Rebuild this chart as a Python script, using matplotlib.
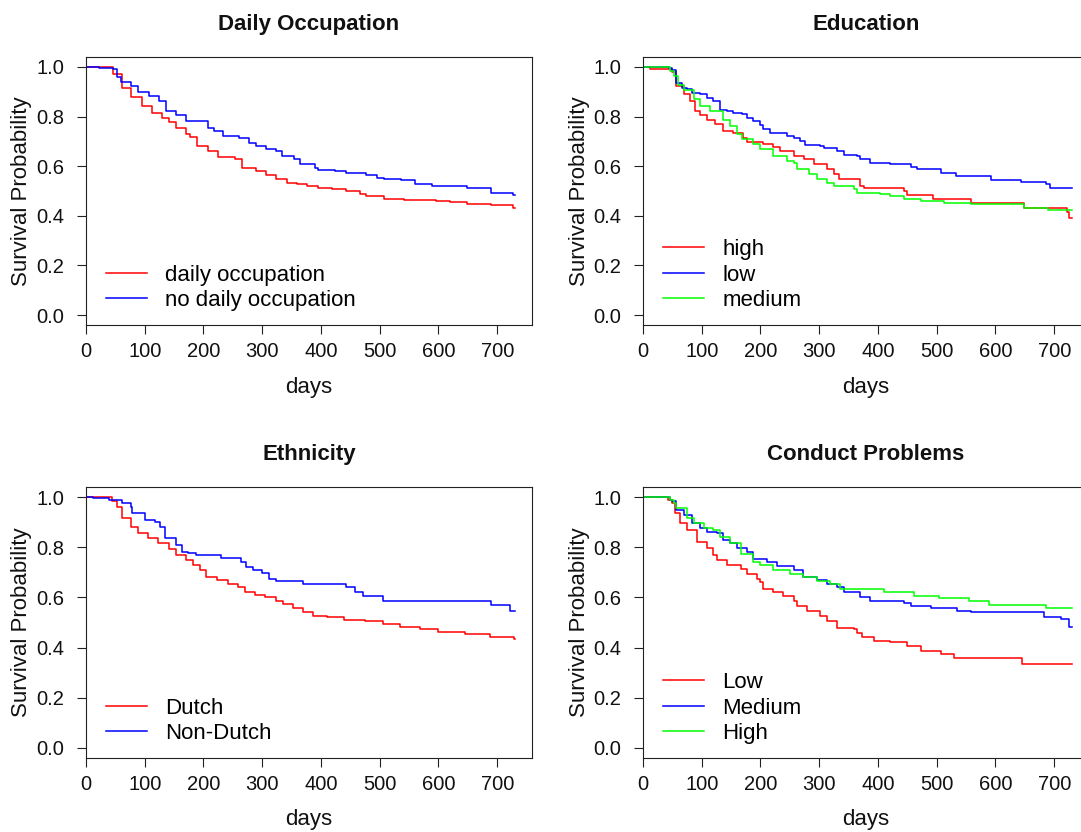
import matplotlib
matplotlib.use("Agg")
import matplotlib.pyplot as plt

plt.rcParams['font.family'] = ['Liberation Sans', 'DejaVu Sans']

# ---------------- data (step points: day, survival) ----------------
days_ticks = [0, 100, 200, 300, 400, 500, 600, 700]
surv_ticks = [0.0, 0.2, 0.4, 0.6, 0.8, 1.0]
end_day = 730

# Panel 1: Daily Occupation
occ_labels = ["daily occupation", "no daily occupation"]
occ_daily_t = [0, 46, 62, 77, 95, 112, 130, 142, 154, 171, 177, 189, 207, 224, 254, 265, 289, 307, 324, 342, 360, 377, 395, 418, 442, 466, 477, 507, 542, 595, 619, 648, 689, 727]
occ_daily_s = [1.0, 0.97, 0.915, 0.88, 0.842, 0.815, 0.795, 0.78, 0.755, 0.728, 0.718, 0.68, 0.66, 0.638, 0.627, 0.594, 0.58, 0.563, 0.547, 0.534, 0.527, 0.52, 0.513, 0.507, 0.5, 0.487, 0.48, 0.469, 0.462, 0.46, 0.457, 0.446, 0.442, 0.432]
occ_none_t = [0, 22, 46, 52, 59, 77, 89, 107, 124, 136, 154, 171, 207, 218, 233, 260, 277, 289, 307, 324, 333, 354, 365, 389, 395, 424, 442, 477, 495, 507, 536, 560, 589, 648, 689, 727]
occ_none_s = [1.0, 0.995, 0.99, 0.96, 0.94, 0.922, 0.898, 0.882, 0.862, 0.822, 0.808, 0.781, 0.755, 0.741, 0.721, 0.714, 0.694, 0.68, 0.67, 0.661, 0.641, 0.627, 0.607, 0.594, 0.584, 0.58, 0.574, 0.564, 0.554, 0.547, 0.543, 0.527, 0.52, 0.513, 0.493, 0.483]

# Panel 2: Education
edu_labels = ["high", "low", "medium"]
edu_high_t = [0, 12, 49, 57, 69, 80, 89, 97, 109, 123, 137, 154, 171, 177, 205, 222, 234, 257, 274, 291, 313, 325, 333, 370, 376, 444, 450, 493, 558, 649, 721, 726]
edu_high_s = [1.0, 0.993, 0.979, 0.922, 0.889, 0.862, 0.822, 0.808, 0.788, 0.768, 0.741, 0.735, 0.714, 0.697, 0.688, 0.678, 0.661, 0.641, 0.627, 0.607, 0.587, 0.567, 0.547, 0.52, 0.513, 0.5, 0.483, 0.466, 0.45, 0.433, 0.416, 0.393]
edu_low_t = [0, 44, 49, 57, 66, 75, 83, 97, 109, 120, 131, 143, 154, 168, 177, 188, 200, 205, 217, 245, 257, 268, 276, 302, 308, 330, 342, 365, 370, 387, 421, 456, 467, 507, 532, 592, 643, 686, 692]
edu_low_s = [1.0, 0.995, 0.987, 0.936, 0.915, 0.911, 0.895, 0.889, 0.875, 0.862, 0.828, 0.822, 0.815, 0.812, 0.795, 0.781, 0.764, 0.748, 0.735, 0.721, 0.714, 0.701, 0.684, 0.681, 0.672, 0.661, 0.647, 0.641, 0.627, 0.614, 0.607, 0.598, 0.59, 0.574, 0.56, 0.544, 0.536, 0.527, 0.513]
edu_med_t = [0, 46, 52, 60, 69, 86, 97, 114, 137, 148, 160, 168, 188, 200, 222, 245, 257, 262, 282, 296, 313, 325, 359, 365, 404, 421, 444, 473, 512, 558, 649, 689]
edu_med_s = [1.0, 0.985, 0.962, 0.929, 0.909, 0.869, 0.842, 0.822, 0.788, 0.761, 0.728, 0.708, 0.688, 0.668, 0.641, 0.621, 0.614, 0.587, 0.567, 0.547, 0.534, 0.52, 0.507, 0.493, 0.487, 0.48, 0.469, 0.46, 0.45, 0.446, 0.433, 0.424]

# Panel 3: Ethnicity
eth_labels = ["Dutch", "Non-Dutch"]
eth_dutch_t = [0, 44, 53, 62, 76, 88, 106, 123, 141, 153, 170, 182, 194, 205, 223, 241, 258, 270, 288, 305, 323, 335, 352, 370, 387, 411, 440, 475, 505, 534, 569, 599, 646, 687, 728]
eth_dutch_s = [1.0, 0.985, 0.962, 0.916, 0.882, 0.858, 0.835, 0.815, 0.791, 0.768, 0.748, 0.728, 0.708, 0.681, 0.668, 0.654, 0.641, 0.621, 0.611, 0.601, 0.587, 0.574, 0.558, 0.54, 0.527, 0.52, 0.511, 0.504, 0.493, 0.484, 0.473, 0.464, 0.453, 0.442, 0.434]
eth_non_t = [0, 12, 40, 62, 76, 79, 100, 117, 126, 135, 153, 164, 173, 188, 229, 264, 273, 285, 299, 311, 323, 370, 443, 458, 472, 505, 690, 722]
eth_non_s = [1.0, 0.995, 0.99, 0.976, 0.962, 0.936, 0.909, 0.902, 0.882, 0.835, 0.808, 0.782, 0.777, 0.768, 0.759, 0.741, 0.721, 0.708, 0.697, 0.674, 0.664, 0.654, 0.641, 0.621, 0.607, 0.587, 0.57, 0.544]

# Panel 4: Conduct Problems
con_labels = ["Low", "Medium", "High"]
con_low_t = [0, 42, 49, 55, 63, 75, 92, 109, 120, 126, 143, 166, 177, 194, 200, 205, 222, 239, 257, 262, 279, 302, 313, 330, 359, 365, 373, 393, 421, 450, 473, 507, 530, 646]
con_low_s = [1.0, 0.99, 0.976, 0.936, 0.895, 0.869, 0.822, 0.795, 0.768, 0.748, 0.728, 0.714, 0.694, 0.674, 0.661, 0.634, 0.621, 0.607, 0.587, 0.567, 0.547, 0.527, 0.507, 0.48, 0.473, 0.46, 0.442, 0.426, 0.422, 0.406, 0.386, 0.373, 0.359, 0.335]
con_med_t = [0, 46, 49, 57, 69, 83, 97, 109, 126, 137, 148, 160, 177, 188, 211, 228, 257, 273, 296, 313, 330, 342, 370, 387, 444, 456, 490, 535, 558, 683, 712, 726]
con_med_s = [1.0, 0.99, 0.983, 0.949, 0.929, 0.895, 0.875, 0.862, 0.855, 0.828, 0.815, 0.795, 0.782, 0.755, 0.741, 0.724, 0.71, 0.681, 0.668, 0.654, 0.641, 0.621, 0.601, 0.587, 0.576, 0.567, 0.558, 0.547, 0.54, 0.52, 0.513, 0.483]
con_high_t = [0, 46, 52, 57, 75, 86, 103, 120, 131, 148, 166, 188, 200, 222, 251, 273, 296, 319, 336, 410, 461, 504, 555, 589, 686]
con_high_s = [1.0, 0.99, 0.976, 0.956, 0.916, 0.895, 0.875, 0.869, 0.842, 0.815, 0.772, 0.741, 0.728, 0.708, 0.694, 0.681, 0.664, 0.654, 0.634, 0.621, 0.607, 0.598, 0.587, 0.57, 0.558]

panels = [
    ("Daily Occupation", occ_labels, [(occ_daily_t, occ_daily_s), (occ_none_t, occ_none_s)], ["#FF0000", "#0000FF"]),
    ("Education", edu_labels, [(edu_high_t, edu_high_s), (edu_low_t, edu_low_s), (edu_med_t, edu_med_s)], ["#FF0000", "#0000FF", "#00FF00"]),
    ("Ethnicity", eth_labels, [(eth_dutch_t, eth_dutch_s), (eth_non_t, eth_non_s)], ["#FF0000", "#0000FF"]),
    ("Conduct Problems", con_labels, [(con_low_t, con_low_s), (con_med_t, con_med_s), (con_high_t, con_high_s)], ["#FF0000", "#0000FF", "#00FF00"]),
]

# ---------------- layout ----------------
W, H = 1081, 832
fig = plt.figure(figsize=(W / 100, H / 100), dpi=100)
fig.patch.set_facecolor("white")

# pixel boxes (left, top, right, bottom)
boxes = [(86, 57, 532, 325), (643, 57, 1089, 325), (86, 487, 532, 758), (643, 487, 1089, 758)]

for (title, labels, series, colors), (l, t, r, b) in zip(panels, boxes):
    ax = fig.add_axes([l / W, 1 - b / H, (r - l) / W, (b - t) / H])
    for (tt, ss), c, lab in zip(series, colors, labels):
        xs = list(tt) + [end_day]
        ys = list(ss) + [ss[-1]]
        ax.step(xs, ys, where="post", color=c, lw=1.1, label=lab)
    ax.set_xlim(0, end_day * 1.04)
    ax.set_ylim(-0.04, 1.04)
    ax.set_xticks(days_ticks)
    ax.set_xticklabels([str(d) for d in days_ticks])
    ax.set_yticks(surv_ticks)
    ax.set_yticklabels([f"{v:.1f}" for v in surv_ticks])
    ax.tick_params(axis="both", direction="out", length=6.5, width=0.8, color="#222222",
                   labelsize=14.5, labelcolor="#111111")
    ax.tick_params(axis="x", pad=5.5)
    ax.tick_params(axis="y", pad=9.0)
    for sp in ax.spines.values():
        sp.set_linewidth(0.8)
        sp.set_color("#222222")
    ax.set_title(title, fontsize=16, fontweight="bold", pad=19.5, color="#111111")
    ax.set_xlabel("days", fontsize=16, color="#111111")
    ax.xaxis.set_label_coords(0.5, -62 / (b - t))
    ax.xaxis.label.set_va("center")
    ax.set_ylabel("Survival Probability", fontsize=16, color="#111111")
    ax.yaxis.set_label_coords(-64 / (r - l), 0.5)
    ax.yaxis.label.set_va("center")
    ax.legend(loc="lower left", bbox_to_anchor=(20 / (r - l), 14 / (b - t)),
              frameon=False, fontsize=16, handlelength=1.85, handletextpad=0.81,
              labelspacing=0.2, borderpad=0, borderaxespad=0)

fig.savefig("out.png", dpi=100, facecolor="white")
